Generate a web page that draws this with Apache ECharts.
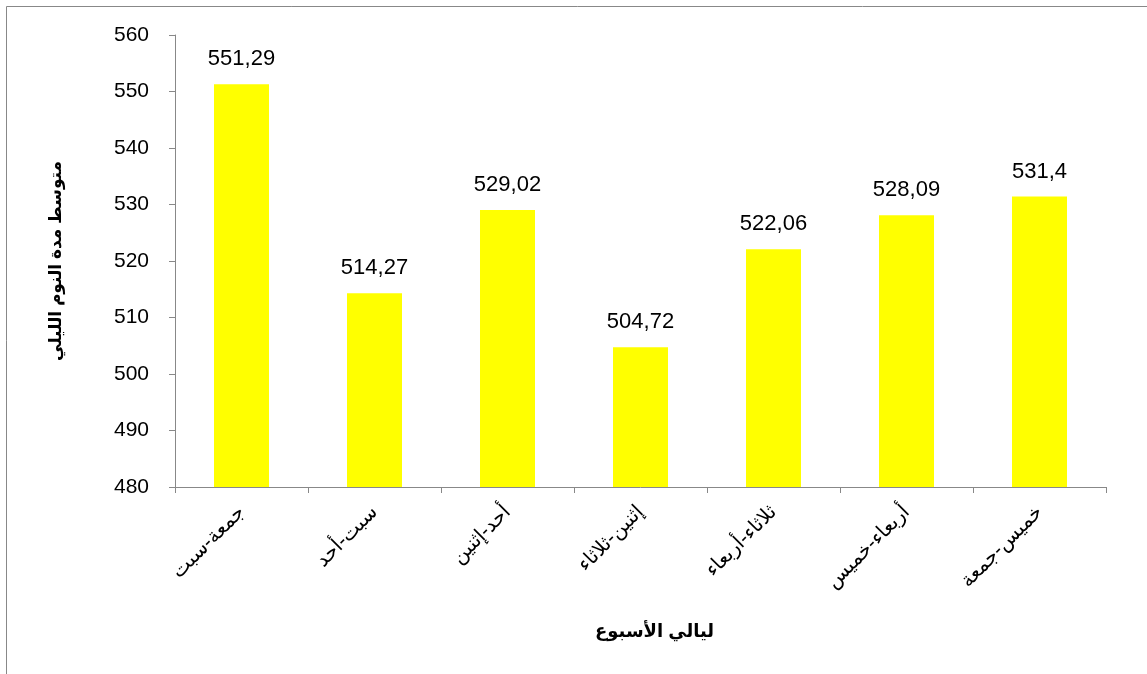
<!DOCTYPE html>
<html>
<head>
<meta charset="utf-8">
<script src="https://cdn.jsdelivr.net/npm/echarts@6/dist/echarts.min.js"></script>
<style>html,body{margin:0;padding:0;background:#fff}#c{width:1147px;height:674px}</style>
</head>
<body>
<div id="c"></div>
<script>
const categories = ['جمعة-سبت', 'سبت-أحد', 'أحد-إثنين', 'إثنين-ثلاثاء', 'ثلاثاء-أربعاء', 'أربعاء-خميس', 'خميس-جمعة'];
const values = [551.29, 514.27, 529.02, 504.72, 522.06, 528.09, 531.4];
const yTitle = 'متوسط مدة النوم الليلي';
const xTitle = 'ليالي الأسبوع';

const FONT = '"Liberation Sans", Arial, "DejaVu Sans", sans-serif';
const chart = echarts.init(document.getElementById('c'));
chart.setOption({
  animation: false,
  backgroundColor: '#fff',
  graphic: [{
    type: 'rect', shape: {x: 6.5, y: 6.5, width: 1160, height: 700},
    style: {fill: 'none', stroke: '#888', lineWidth: 1}
  }],
  grid: {left: 175, right: 41, top: 35, bottom: 187},
  xAxis: {
    type: 'category', data: categories,
    name: xTitle, nameLocation: 'middle', nameGap: 136,
    nameTextStyle: {fontFamily: FONT, fontSize: 18, fontWeight: 'bold', color: '#000', padding: [0, 0, 0, 28]},
    axisLine: {lineStyle: {color: '#888'}},
    axisTick: {show: true, alignWithLabel: false, length: 6, lineStyle: {color: '#888'}},
    axisLabel: {rotate: 45, margin: 22, fontFamily: FONT, fontSize: 20, color: '#000'}
  },
  yAxis: {
    type: 'value', min: 480, max: 560, interval: 10,
    name: yTitle, nameLocation: 'middle', nameGap: 110,
    nameTextStyle: {fontFamily: FONT, fontSize: 17, fontWeight: 'bold', color: '#000'},
    axisLine: {show: true, lineStyle: {color: '#888'}},
    axisTick: {show: true, length: 6, lineStyle: {color: '#888'}},
    splitLine: {show: false},
    axisLabel: {margin: 26, fontFamily: FONT, fontSize: 21, color: '#000'}
  },
  series: [{
    type: 'bar', data: values, barWidth: 55,
    itemStyle: {color: '#ffff00'},
    label: {
      show: true, position: 'top', distance: 14,
      fontFamily: FONT, fontSize: 22, color: '#000',
      formatter: p => String(p.value).replace('.', ',')
    }
  }]
});
</script>
</body>
</html>
